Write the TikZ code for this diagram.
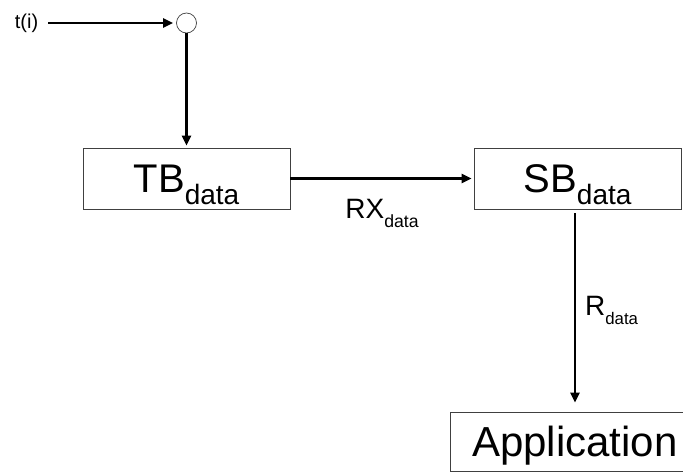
\documentclass[tikz,border=0pt]{standalone}
\usepackage{fontspec}
\setmainfont{Liberation Sans}
\usepackage{graphicx}
\usetikzlibrary{positioning, arrows.meta}

\newcommand{\lowtxt}[2][.7]{\raisebox{-.3em}{\scalebox{#1}{#2}}}

\tikzset{
  blockbox/.style={draw=black!75, line width=0.8pt, rectangle, inner sep=0pt,
    minimum width=207pt, minimum height=61pt, text depth=0pt,
    font=\fontsize{40}{48}\selectfont},
  junction/.style={draw=black!75, line width=0.7pt, circle, minimum size=20pt, inner sep=0pt},
  flowlabel/.style={inner sep=0pt, font=\fontsize{28}{34}\selectfont}
}

\begin{document}
\begin{tikzpicture}
	[shorten >=2pt, on grid, >={Triangle[length=10pt,width=9pt]},
	 every edge/.style={draw, line width=2.2pt}]
   \useasboundingbox (0,0) rectangle (683pt,-472pt);
   \node[blockbox] (tb) at (186.5pt,-178.5pt) {TB\lowtxt{data}};
   \node[blockbox] (sb) [right=391pt of tb] {SB\lowtxt{data}};
   \node[blockbox, minimum width=249pt, minimum height=59pt,
     font=\fontsize{42}{50}\selectfont] (app) [below=263pt of sb, xshift=-2.5pt] {Application};
   \node[junction] (circ) [above=155.5pt of tb] {};
   \node[inner sep=0pt, font=\fontsize{20}{24}\selectfont] (ti) [left=160pt of circ] {t(i)};
       \path[->]
    (ti) edge [shorten <=10pt, shorten >=3pt] (circ)
    (circ) edge (tb)
    (tb) edge node [flowlabel, below=20pt] {RX\lowtxt[.63]{data}} (sb)
    ([xshift=-2.5pt]sb.south) edge [shorten <=4pt, shorten >=9pt]
          node [flowlabel, right=9pt] {R\lowtxt[.6]{data}} (app.north);
\end{tikzpicture}
\end{document}
